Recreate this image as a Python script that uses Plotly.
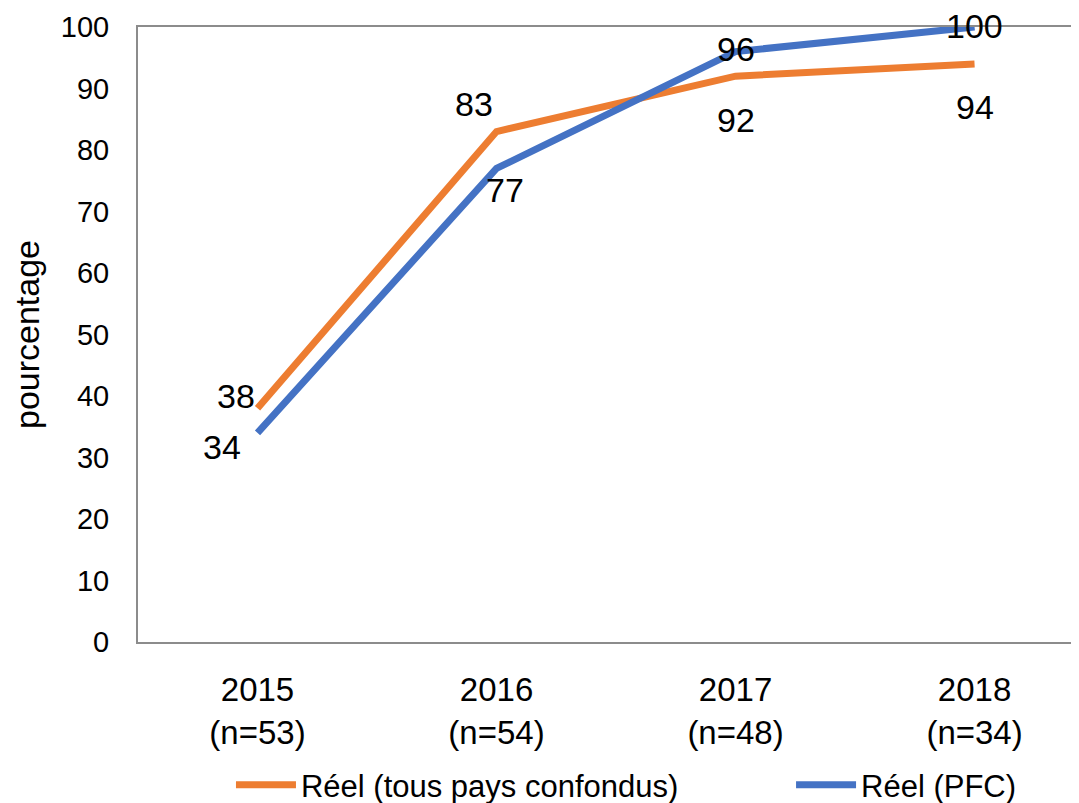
import plotly.graph_objects as go

years = ["2015", "2016", "2017", "2018"]
counts = ["n=53", "n=54", "n=48", "n=34"]
tick_labels = [f"{y}<br>({n})" for y, n in zip(years, counts)]
reel_tous = [38, 83, 92, 94]
reel_pfc = [34, 77, 96, 100]
name_tous = "Réel (tous pays confondus)"
name_pfc = "Réel (PFC)"

ORANGE = "#ED7D31"
BLUE = "#4472C4"
FONT = "Liberation Sans"

# label offsets in pixels (dx right, dy up)
off_tous = [(-22, 12), (-23, 28), (0, -44), (0, -43)]
off_pfc = [(-36, -14), (8, -22), (0, 3), (0, 1)]

x = list(range(len(years)))

fig = go.Figure()
fig.add_trace(go.Scatter(x=x, y=reel_tous, mode="lines", name=name_tous,
                         line=dict(color=ORANGE, width=7), legend="legend"))
fig.add_trace(go.Scatter(x=x, y=reel_pfc, mode="lines", name=name_pfc,
                         line=dict(color=BLUE, width=7), legend="legend2"))

anns = []
for vals, offs in ((reel_tous, off_tous), (reel_pfc, off_pfc)):
    for xi, v, (dx, dy) in zip(x, vals, offs):
        anns.append(dict(x=xi, y=v, text=str(v), showarrow=False,
                         xshift=dx, yshift=dy,
                         font=dict(family=FONT, size=34, color="black")))

leg_common = dict(orientation="h", y=-0.2325, yanchor="middle", xanchor="left",
                  font=dict(family=FONT, size=31, color="black"), itemwidth=60,
                  bgcolor="rgba(0,0,0,0)", borderwidth=0)

fig.update_layout(
    width=1071, height=795,
    margin=dict(l=130, r=0, t=19, b=161, autoexpand=False),
    paper_bgcolor="white", plot_bgcolor="white",
    showlegend=True,
    legend=dict(x=0.0988, **leg_common),
    legend2=dict(x=0.694, **leg_common),
    annotations=anns,
    xaxis=dict(range=[-0.5, 3.437], tickvals=x, ticktext=tick_labels,
               showgrid=False, zeroline=False, showline=True, mirror=True,
               linecolor="#8c8c8c", linewidth=2, ticks="",
               ticklabelstandoff=17, automargin=False,
               tickfont=dict(family=FONT, size=33, color="black")),
    yaxis=dict(range=[0, 100], dtick=10, showgrid=False, zeroline=False,
               showline=True, linecolor="#8c8c8c", linewidth=2, ticks="",
               ticklabelstandoff=21, automargin=False,
               tickfont=dict(family=FONT, size=29, color="black"),
               title=dict(text="pourcentage", standoff=11,
                          font=dict(family=FONT, size=34, color="black"))),
)

fig.write_html("out.html")
